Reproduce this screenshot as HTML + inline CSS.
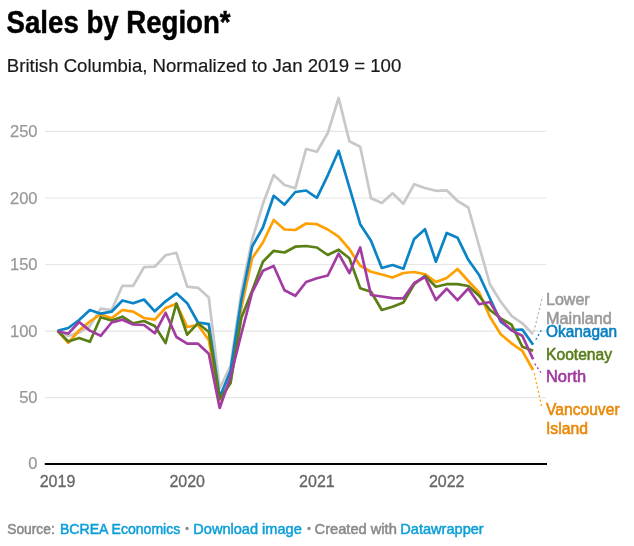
<!DOCTYPE html>
<html><head><meta charset="utf-8"><title>Sales by Region*</title>
<style>
html,body{margin:0;padding:0;background:#fff;width:634px;height:546px;overflow:hidden}
svg{display:block}
text{font-family:"Liberation Sans",Arial,sans-serif}
.t{font-weight:bold;font-size:31px;fill:#000;stroke:#000;stroke-width:0.5px}
.st{font-size:19.2px;fill:#1a1a1a;stroke:#1a1a1a;stroke-width:0.2px}
.yl{font-size:16.5px;fill:#999;stroke:#999;stroke-width:0.25px;text-anchor:end}
.xl{font-size:16px;fill:#666;stroke:#666;stroke-width:0.3px;text-anchor:middle}
.ll{font-size:16.3px;stroke-width:0.6px}
.ft text{font-size:14.5px;fill:#888;stroke:#888;stroke-width:0.5px}
.ft .lk{fill:#0c9fd8;stroke:#0c9fd8}
</style></head><body>
<svg width="634" height="546" viewBox="0 0 634 546">
<text x="6.6" y="32.7" class="t" textLength="224" lengthAdjust="spacingAndGlyphs">Sales by Region*</text>
<text x="6.8" y="71.7" class="st" textLength="394.5" lengthAdjust="spacingAndGlyphs">British Columbia, Normalized to Jan 2019 = 100</text>
<line x1="45" y1="397.6" x2="546" y2="397.6" stroke="#e6e6e6" stroke-width="1.1"/>
<text x="37.5" y="403.2" class="yl">50</text>
<line x1="45" y1="331.1" x2="546" y2="331.1" stroke="#e6e6e6" stroke-width="1.1"/>
<text x="37.5" y="336.7" class="yl">100</text>
<line x1="45" y1="264.5" x2="546" y2="264.5" stroke="#e6e6e6" stroke-width="1.1"/>
<text x="37.5" y="270.1" class="yl">150</text>
<line x1="45" y1="198.0" x2="546" y2="198.0" stroke="#e6e6e6" stroke-width="1.1"/>
<text x="37.5" y="203.6" class="yl">200</text>
<line x1="45" y1="131.4" x2="546" y2="131.4" stroke="#e6e6e6" stroke-width="1.1"/>
<text x="37.5" y="137.0" class="yl">250</text>
<text x="37.5" y="469.2" class="yl">0</text>

<text x="57.5" y="486.6" class="xl">2019</text>
<text x="187.2" y="486.6" class="xl">2020</text>
<text x="316.9" y="486.6" class="xl">2021</text>
<text x="446.7" y="486.6" class="xl">2022</text>

<line x1="44.8" y1="464" x2="547" y2="464" stroke="#000" stroke-width="2"/>
<polyline points="57.5,330.8 68.3,336.0 79.1,332.5 89.9,326.0 100.7,308.7 111.6,310.0 122.4,285.8 133.2,285.8 144.0,267.2 154.8,266.7 165.6,255.3 176.4,252.8 187.2,286.7 198.0,287.8 208.8,297.5 219.7,388.3 230.5,366.0 241.3,292.0 252.1,240.0 262.9,204.0 273.7,175.0 284.5,185.0 295.3,188.3 306.1,149.0 316.9,151.7 327.8,133.0 338.6,98.0 349.4,141.3 360.2,146.7 371.0,198.3 381.8,203.0 392.6,193.3 403.4,203.7 414.2,184.2 425.0,188.0 435.9,190.8 446.7,190.3 457.5,201.0 468.3,207.5 479.1,246.0 489.9,284.2 500.7,301.7 511.5,315.8 522.3,323.3 533.1,334.2" fill="none" stroke="#c8c8c8" stroke-width="2.7" stroke-linejoin="round" stroke-linecap="butt"/>
<polyline points="57.5,330.8 68.3,342.8 79.1,330.5 89.9,321.5 100.7,314.2 111.6,318.3 122.4,310.0 133.2,311.7 144.0,318.0 154.8,319.6 165.6,308.0 176.4,303.8 187.2,327.0 198.0,325.0 208.8,340.0 219.7,400.0 230.5,382.0 241.3,308.0 252.1,258.3 262.9,242.5 273.7,220.0 284.5,229.5 295.3,230.0 306.1,223.5 316.9,224.2 327.8,229.5 338.6,236.7 349.4,249.2 360.2,265.8 371.0,271.7 381.8,274.5 392.6,277.5 403.4,273.0 414.2,272.0 425.0,274.2 435.9,282.0 446.7,278.0 457.5,269.0 468.3,281.0 479.1,292.5 489.9,316.7 500.7,334.2 511.5,343.3 522.3,350.8 533.1,370.0" fill="none" stroke="#ffa000" stroke-width="2.7" stroke-linejoin="round" stroke-linecap="butt"/>
<polyline points="57.5,330.8 68.3,328.0 79.1,320.0 89.9,310.0 100.7,313.7 111.6,311.7 122.4,300.5 133.2,303.3 144.0,299.5 154.8,311.3 165.6,301.3 176.4,293.3 187.2,303.2 198.0,322.5 208.8,324.2 219.7,397.3 230.5,371.0 241.3,300.0 252.1,246.7 262.9,227.5 273.7,195.8 284.5,204.7 295.3,192.0 306.1,190.5 316.9,197.8 327.8,175.3 338.6,150.8 349.4,187.3 360.2,224.2 371.0,240.8 381.8,268.0 392.6,265.0 403.4,268.7 414.2,238.9 425.0,229.2 435.9,261.7 446.7,233.0 457.5,237.7 468.3,259.8 479.1,275.0 489.9,298.3 500.7,321.7 511.5,330.0 522.3,329.5 533.1,344.7" fill="none" stroke="#0a84c6" stroke-width="2.7" stroke-linejoin="round" stroke-linecap="butt"/>
<polyline points="57.5,330.8 68.3,341.5 79.1,338.0 89.9,341.8 100.7,317.2 111.6,320.5 122.4,316.7 133.2,323.3 144.0,321.0 154.8,326.0 165.6,343.0 176.4,303.5 187.2,334.7 198.0,323.2 208.8,332.0 219.7,399.0 230.5,383.3 241.3,318.0 252.1,290.8 262.9,261.7 273.7,250.8 284.5,252.5 295.3,246.7 306.1,246.0 316.9,247.5 327.8,255.0 338.6,249.7 349.4,258.3 360.2,288.3 371.0,291.7 381.8,310.0 392.6,306.7 403.4,302.5 414.2,284.2 425.0,275.8 435.9,286.7 446.7,284.2 457.5,284.2 468.3,286.0 479.1,295.8 489.9,310.0 500.7,318.3 511.5,324.6 522.3,346.7 533.1,350.8" fill="none" stroke="#5a7f14" stroke-width="2.7" stroke-linejoin="round" stroke-linecap="butt"/>
<polyline points="57.5,331.2 68.3,333.7 79.1,322.0 89.9,330.6 100.7,335.8 111.6,322.5 122.4,319.7 133.2,324.5 144.0,325.0 154.8,333.3 165.6,312.8 176.4,337.0 187.2,343.7 198.0,343.7 208.8,353.7 219.7,408.0 230.5,377.0 241.3,334.0 252.1,292.5 262.9,270.8 273.7,266.0 284.5,290.3 295.3,295.8 306.1,282.0 316.9,278.3 327.8,275.5 338.6,253.7 349.4,273.0 360.2,247.5 371.0,295.0 381.8,296.5 392.6,298.2 403.4,298.3 414.2,283.0 425.0,277.0 435.9,300.0 446.7,288.7 457.5,300.2 468.3,288.5 479.1,304.2 489.9,302.0 500.7,320.0 511.5,330.4 522.3,335.8 533.1,359.2" fill="none" stroke="#a23ca2" stroke-width="2.7" stroke-linejoin="round" stroke-linecap="butt"/>


<line x1="533.8" y1="332" x2="542.5" y2="296.7" stroke="#bdbdbd" stroke-width="1.3" stroke-dasharray="2.5,2"/>
<line x1="535.8" y1="339.7" x2="541.7" y2="329.7" stroke="#0a84c6" stroke-width="1.3" stroke-dasharray="2,2.5"/>
<line x1="534.7" y1="363.7" x2="542.2" y2="374.5" stroke="#a23ca2" stroke-width="1.3" stroke-dasharray="2,2.5"/>
<line x1="534.2" y1="373.3" x2="541.7" y2="406.7" stroke="#ffa000" stroke-width="1.3" stroke-dasharray="2,2.5"/>


<text x="546" y="304.8" class="ll" fill="#9a9a9a" stroke="#9a9a9a" textLength="43.7" lengthAdjust="spacingAndGlyphs">Lower</text>
<text x="546" y="323.8" class="ll" fill="#9a9a9a" stroke="#9a9a9a" textLength="65.9" lengthAdjust="spacingAndGlyphs">Mainland</text>
<text x="546" y="337.1" class="ll" fill="#087fc2" stroke="#087fc2" textLength="71.1" lengthAdjust="spacingAndGlyphs">Okanagan</text>
<text x="546" y="359.8" class="ll" fill="#5a7d1a" stroke="#5a7d1a" textLength="66.1" lengthAdjust="spacingAndGlyphs">Kootenay</text>
<text x="546" y="382.4" class="ll" fill="#a0389e" stroke="#a0389e" textLength="40.2" lengthAdjust="spacingAndGlyphs">North</text>
<text x="546" y="415" class="ll" fill="#e8890a" stroke="#e8890a" textLength="73.6" lengthAdjust="spacingAndGlyphs">Vancouver</text>
<text x="546" y="434" class="ll" fill="#e8890a" stroke="#e8890a" textLength="42" lengthAdjust="spacingAndGlyphs">Island</text>

<g class="ft">
<text x="7.2" y="533.6" textLength="47.6" lengthAdjust="spacingAndGlyphs">Source:</text>
<text x="60" y="533.6" textLength="120.3" lengthAdjust="spacingAndGlyphs" class="lk">BCREA Economics</text>
<circle cx="187.1" cy="528.5" r="1.65" fill="#888"/>
<text x="193.3" y="533.6" textLength="108.5" lengthAdjust="spacingAndGlyphs" class="lk">Download image</text>
<circle cx="309" cy="528.5" r="1.65" fill="#888"/>
<text x="314.6" y="533.6" textLength="82.2" lengthAdjust="spacingAndGlyphs">Created with</text>
<text x="400.3" y="533.6" textLength="83.4" lengthAdjust="spacingAndGlyphs" class="lk">Datawrapper</text>
</g>
</svg>
</body></html>
